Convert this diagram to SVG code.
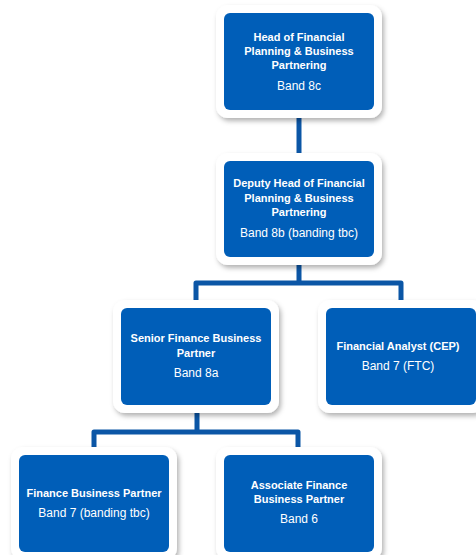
<svg xmlns="http://www.w3.org/2000/svg" width="476" height="555" viewBox="0 0 476 555">
<defs>
<filter id="sh" x="-10%" y="-10%" width="130%" height="130%">
<feDropShadow dx="2" dy="3" stdDeviation="2.5" flood-color="#000" flood-opacity="0.3"/>
</filter>
<style>
.frame{fill:#fff;filter:url(#sh)}
.box{fill:#005EB8}
.t{font-family:"Liberation Sans",Arial,sans-serif;font-size:11px;fill:#fff;text-anchor:middle}
.b{font-weight:bold}
.r{font-size:12px}
.c{fill:none;stroke:#0B56A6;stroke-width:5;stroke-linejoin:round}
</style>
</defs>
<rect width="476" height="555" fill="#fff"/>
<g id="connectors">
<path class="c" d="M299 118V153"/>
<path class="c" d="M299 265V283H196V300M299 283H401V300"/>
<path class="c" d="M197 413V432H94V447M197 432H298V447"/>
</g>
<g id="head">
<rect class="frame" x="216" y="5" width="166" height="113" rx="12"/>
<rect class="box" x="224" y="13" width="150" height="97" rx="6"/>
<text class="t b" x="299" y="41">Head of Financial</text>
<text class="t b" x="299" y="55">Planning &amp; Business</text>
<text class="t b" x="299" y="69">Partnering</text>
<text class="t r" x="299" y="90">Band 8c</text>
</g>
<g id="deputy">
<rect class="frame" x="216" y="153" width="166" height="112" rx="12"/>
<rect class="box" x="224" y="161" width="150" height="96" rx="6"/>
<text class="t b" x="299" y="187">Deputy Head of Financial</text>
<text class="t b" x="299" y="202">Planning &amp; Business</text>
<text class="t b" x="299" y="216">Partnering</text>
<text class="t r" x="299" y="237">Band 8b (banding tbc)</text>
</g>
<g id="senior">
<rect class="frame" x="113" y="300" width="166" height="113" rx="12"/>
<rect class="box" x="121" y="308" width="150" height="97" rx="6"/>
<text class="t b" x="196" y="342">Senior Finance Business</text>
<text class="t b" x="196" y="357">Partner</text>
<text class="t r" x="196" y="377">Band 8a</text>
</g>
<g id="analyst">
<rect class="frame" x="318" y="300" width="166" height="113" rx="12"/>
<rect class="box" x="326" y="308" width="150" height="97" rx="6"/>
<text class="t b" x="398" y="350">Financial Analyst (CEP)</text>
<text class="t r" x="398" y="370">Band 7 (FTC)</text>
</g>
<g id="fbp">
<rect class="frame" x="11" y="447" width="166" height="113" rx="12"/>
<rect class="box" x="19" y="455" width="150" height="97" rx="6"/>
<text class="t b" x="94" y="497">Finance Business Partner</text>
<text class="t r" x="94" y="517">Band 7 (banding tbc)</text>
</g>
<g id="associate">
<rect class="frame" x="216" y="447" width="166" height="113" rx="12"/>
<rect class="box" x="224" y="455" width="150" height="97" rx="6"/>
<text class="t b" x="299" y="489">Associate Finance</text>
<text class="t b" x="299" y="503">Business Partner</text>
<text class="t r" x="299" y="523">Band 6</text>
</g>
</svg>
